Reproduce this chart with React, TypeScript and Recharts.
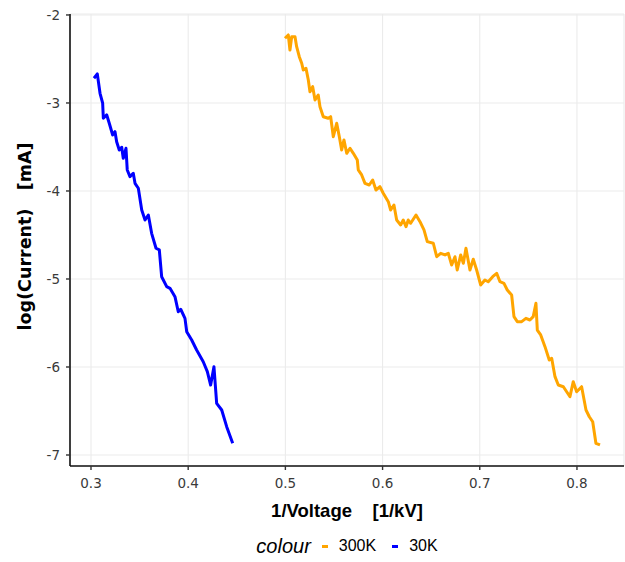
import { LineChart, Line, XAxis, YAxis, CartesianGrid, Legend, Label } from "recharts";

// 300K sweep: 1/V [1/kV] vs log(I) [mA]
const invV300 = [
  0.4996, 0.503, 0.5047, 0.5065, 0.5099, 0.5116, 0.5143, 0.5168, 0.5184, 0.5212,
  0.5236, 0.5253, 0.5281, 0.5305, 0.5338, 0.5356, 0.539, 0.5441, 0.5466, 0.5493,
  0.5528, 0.5555, 0.5579, 0.5603, 0.5631, 0.5665, 0.5699, 0.574, 0.575, 0.5785,
  0.5819, 0.5863, 0.5898, 0.5932, 0.5973, 0.6007, 0.6059, 0.6083, 0.6117, 0.6145,
  0.6186, 0.6213, 0.6241, 0.6264, 0.6289, 0.6344, 0.6385, 0.6426, 0.646, 0.6522,
  0.6557, 0.6598, 0.6642, 0.6676, 0.6711, 0.6745, 0.6768, 0.6804, 0.6831, 0.6858,
  0.6899, 0.6933, 0.6968, 0.7009, 0.7053, 0.7087, 0.7133, 0.7174, 0.7208, 0.7249,
  0.7283, 0.7328, 0.7352, 0.7386, 0.7431, 0.7475, 0.7516, 0.755, 0.7578, 0.7592,
  0.7627, 0.7671, 0.7715, 0.774, 0.7774, 0.7808, 0.786, 0.7894, 0.7928, 0.7962,
  0.7997, 0.8048, 0.8093, 0.8127, 0.8162, 0.8195, 0.8237,
];
const logI300 = [
  -2.265, -2.227, -2.398, -2.247, -2.247, -2.36, -2.474, -2.549, -2.625, -2.606,
  -2.739, -2.872, -2.815, -2.966, -2.909, -3.042, -3.156, -3.174, -3.156, -3.383,
  -3.231, -3.383, -3.534, -3.42, -3.572, -3.515, -3.572, -3.648, -3.761, -3.818,
  -3.913, -3.932, -3.875, -3.989, -3.951, -4.026, -4.122, -4.216, -4.159, -4.33,
  -4.386, -4.33, -4.406, -4.33, -4.367, -4.273, -4.349, -4.443, -4.576, -4.594,
  -4.747, -4.708, -4.727, -4.708, -4.841, -4.747, -4.898, -4.727, -4.822, -4.651,
  -4.898, -4.776, -4.898, -5.068, -5.011, -5.031, -4.974, -4.935, -5.031, -5.049,
  -5.125, -5.182, -5.428, -5.485, -5.485, -5.447, -5.466, -5.428, -5.276, -5.58,
  -5.636, -5.769, -5.92, -5.901, -6.11, -6.205, -6.224, -6.281, -6.337, -6.167,
  -6.281, -6.224, -6.489, -6.565, -6.622, -6.867, -6.886,
];

// 30K sweep
const invV30 = [
  0.3031, 0.3065, 0.3093, 0.312, 0.3127, 0.3162, 0.3188, 0.3223, 0.3247, 0.3264,
  0.3291, 0.3316, 0.3332, 0.336, 0.3373, 0.3401, 0.3435, 0.3453, 0.3487, 0.3522,
  0.3556, 0.359, 0.3624, 0.3669, 0.3703, 0.3727, 0.3779, 0.3813, 0.3864, 0.3898,
  0.3923, 0.3967, 0.3985, 0.4036, 0.4087, 0.4155, 0.4197, 0.4231, 0.4265, 0.4293,
  0.4345, 0.4396, 0.4458,
];
const logI30 = [
  -2.719, -2.67, -2.89, -3.003, -3.174, -3.136, -3.231, -3.364, -3.326, -3.44,
  -3.534, -3.503, -3.628, -3.515, -3.761, -3.837, -3.799, -3.913, -3.969, -4.216,
  -4.33, -4.273, -4.481, -4.651, -4.67, -4.974, -5.087, -5.106, -5.201, -5.372,
  -5.344, -5.447, -5.599, -5.693, -5.807, -5.94, -6.053, -6.205, -5.997, -6.413,
  -6.489, -6.678, -6.867,
];

const xTicks = [0.3, 0.4, 0.5, 0.6, 0.7, 0.8];
const yTicks = [-7, -6, -5, -4, -3, -2];

const series = [
  { name: "300K", color: "#FFA500", data: invV300.map((x, i) => ({ x, y: logI300[i] })) },
  { name: "30K", color: "#0000FF", data: invV30.map((x, i) => ({ x, y: logI30[i] })) },
];

const sans = "'Liberation Sans', Arial, sans-serif";
const wide = "'DejaVu Sans', sans-serif";
const tickStyle = { fill: "#3a3a3a", fontSize: 13.5, fontFamily: wide };

function YTitle() {
  const cx = 31;
  const cy = 236.5;
  return (
    <text
      x={cx}
      y={cy}
      transform={`rotate(-90, ${cx}, ${cy})`}
      textAnchor="middle"
      style={{ whiteSpace: "pre", fontWeight: "bold", fontSize: 17.5, fontFamily: wide, fill: "#000" }}
    >
      {"log(Current)   [mA]"}
    </text>
  );
}

function XTitle({ viewBox }: any) {
  const cx = viewBox.x + viewBox.width / 2;
  return (
    <text
      x={cx}
      y={517}
      textAnchor="middle"
      style={{ whiteSpace: "pre", fontWeight: "bold", fontSize: 18.5, fontFamily: sans, fill: "#000" }}
    >
      {"1/Voltage    [1/kV]"}
    </text>
  );
}

function LegendBox() {
  return (
    <div
      style={{
        display: "flex",
        justifyContent: "center",
        alignItems: "center",
        height: 20,
        fontFamily: sans,
        fontSize: 16,
        color: "#000",
      }}
    >
      <span style={{ fontStyle: "italic", fontSize: 20, marginRight: 11 }}>colour</span>
      {series.map((s, i) => (
        <span key={s.name} style={{ display: "flex", alignItems: "center", marginRight: i === 0 ? 16 : 0 }}>
          <span style={{ display: "inline-block", width: 6, height: 3, background: s.color, marginRight: 11 }} />
          {s.name}
        </span>
      ))}
    </div>
  );
}

export default function App() {
  return (
    <div style={{ position: "absolute", left: 0, top: 0, width: 625, height: 562, background: "#fff" }}>
      <LineChart width={625} height={562} margin={{ top: 14, right: 1, left: 0, bottom: 36 }}>
        <CartesianGrid stroke="#ebebeb" strokeWidth={1.1} />
        <XAxis
          dataKey="x"
          type="number"
          domain={[0.2784, 0.8484]}
          ticks={xTicks}
          allowDataOverflow
          height={60}
          tick={tickStyle}
          tickSize={4}
          tickMargin={8}
          tickLine={{ stroke: "#333", strokeWidth: 1.4 }}
          axisLine={{ stroke: "#111", strokeWidth: 1.6 }}
        >
          <Label content={<XTitle />} />
        </XAxis>
        <YAxis
          dataKey="y"
          type="number"
          domain={[-7.125, -1.989]}
          ticks={yTicks}
          allowDataOverflow
          width={70}
          tick={tickStyle}
          tickSize={4}
          tickMargin={6}
          tickLine={{ stroke: "#333", strokeWidth: 1.4 }}
          axisLine={{ stroke: "#111", strokeWidth: 1.6 }}
        >
          <Label content={<YTitle />} />
        </YAxis>
        <Legend
          verticalAlign="middle"
          align="center"
          content={<LegendBox />}
          wrapperStyle={{ top: 536, left: 70, width: 554, height: 20 }}
        />
        {series.map((s) => (
          <Line
            key={s.name}
            data={s.data}
            dataKey="y"
            name={s.name}
            type="linear"
            stroke={s.color}
            strokeWidth={3}
            strokeLinejoin="round"
            dot={false}
            activeDot={false}
            isAnimationActive={false}
          />
        ))}
      </LineChart>
    </div>
  );
}
